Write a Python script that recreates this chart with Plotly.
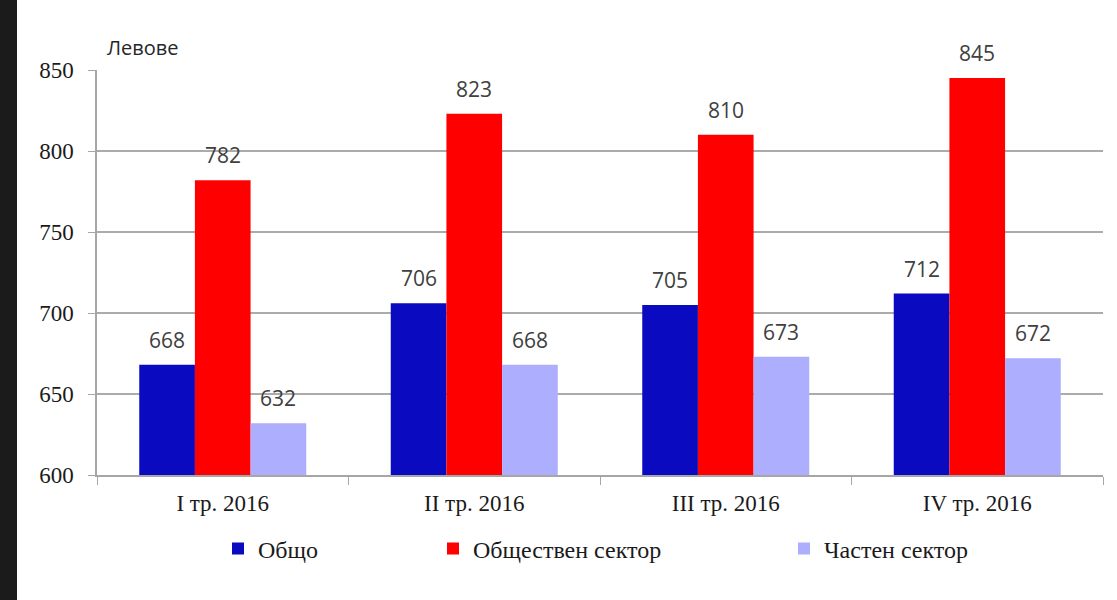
import plotly.graph_objects as go

categories = ["I тр. 2016", "II тр. 2016", "III тр. 2016", "IV тр. 2016"]
series_names = ["Общо", "Обществен сектор", "Частен сектор"]
total = [668, 706, 705, 712]
public = [782, 823, 810, 845]
private = [632, 668, 673, 672]
y_ticks = [600, 650, 700, 750, 800, 850]
unit_label = "Левове"

colors = ["#0A0AC0", "#FF0000", "#AEAEFF"]
series_values = [total, public, private]

W, H = 1117, 600
L, R, T, B = 97, 14, 70, 125
plot_w = W - L - R
plot_h = H - T - B
bargap = 0.336
group_px = plot_w / len(categories)
bar_px = group_px * (1 - bargap) / 3

serif = "Liberation Serif, Times New Roman, serif"
sans = "Open Sans, Noto Sans, sans-serif"

legend_names = ["legend", "legend2", "legend3"]
legend_left_px = [218, 433, 784]

fig = go.Figure()
for i, (name, vals) in enumerate(zip(series_names, series_values)):
    fig.add_trace(go.Bar(
        x=categories, y=vals, name=name,
        marker=dict(color=colors[i], line=dict(width=0)),
        legend=legend_names[i],
    ))

annotations = []
for i, vals in enumerate(series_values):
    for c, v in zip(categories, vals):
        annotations.append(dict(
            x=c, y=v, xref="x", yref="y", text=str(v), showarrow=False,
            xshift=(i - 1) * bar_px, yshift=9, yanchor="bottom",
            font=dict(family=sans, size=21, color="#404040"),
        ))

annotations.append(dict(
    x=(105 - L) / plot_w, y=(T + plot_h - 47) / plot_h, xref="paper", yref="paper",
    text=unit_label, showarrow=False, xanchor="left", yanchor="middle",
    font=dict(family=sans, size=20, color="#262626"),
))

layout_legends = {}
for i, ln in enumerate(legend_names):
    layout_legends[ln] = dict(
        x=(legend_left_px[i] - L) / plot_w, xanchor="left",
        y=(475 - 549) / plot_h, yanchor="middle",
        orientation="h", bgcolor="rgba(0,0,0,0)", borderwidth=0,
        font=dict(family=serif, size=24, color="#1a1a1a"),
    )

fig.update_layout(
    width=W, height=H,
    margin=dict(l=L, r=R, t=T, b=B, pad=0),
    paper_bgcolor="white", plot_bgcolor="white",
    barmode="group", bargap=bargap, bargroupgap=0,
    showlegend=True,
    annotations=annotations,
    shapes=[dict(
        type="rect", xref="paper", yref="paper",
        x0=(0 - L) / plot_w, x1=(17 - L) / plot_w,
        y0=-(B) / plot_h, y1=(T + plot_h) / plot_h,
        fillcolor="#1b1b1b", line=dict(width=0), layer="above",
    )],
    **layout_legends,
)

fig.update_xaxes(
    showline=True, linecolor="#A6A6A6", linewidth=1.5,
    ticks="outside", tickson="boundaries", ticklen=8, tickcolor="#A6A6A6",
    ticklabelstandoff=7,
    tickfont=dict(family=serif, size=23, color="#1a1a1a"),
    showgrid=False,
)
fig.update_yaxes(
    range=[600, 850], tickvals=y_ticks,
    showline=True, linecolor="#A6A6A6", linewidth=1.5,
    ticks="outside", ticklen=7, tickcolor="#A6A6A6",
    ticklabelstandoff=10,
    tickfont=dict(family=serif, size=23, color="#1a1a1a"),
    showgrid=True, gridcolor="#ABABAB", gridwidth=1.5,
    zeroline=False,
)

fig.write_html("out.html")
